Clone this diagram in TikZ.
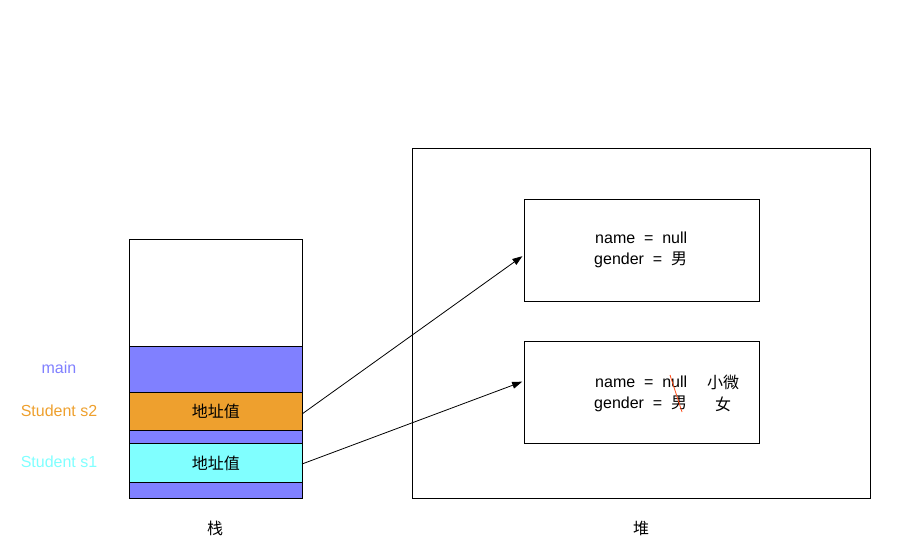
\documentclass[tikz,border=0pt]{standalone}
\usepackage{fontspec}
\setmainfont{Liberation Sans}
\newfontfamily\cjk{Noto Sans CJK SC}
\usetikzlibrary{arrows.meta}
\definecolor{cpurple}{HTML}{8080FF}
\definecolor{corange}{HTML}{EEA02E}
\definecolor{ccyan}{HTML}{80FFFF}
\definecolor{cred}{HTML}{FF4D1A}
\begin{document}
\begin{tikzpicture}[x=1pt,y=-1pt,
  txt/.style={font=\fontsize{16}{19}\selectfont, inner sep=0pt},
  cjktxt/.style={font=\cjk\fontsize{16}{19}\selectfont, inner sep=0pt},
  cell/.style={draw=black, line width=0.9pt},
  arr/.style={-{Triangle[length=10pt,width=7pt]}, line width=0.8pt, shorten >=2pt}]
\useasboundingbox (0,0) rectangle (915,555);
% stack
\draw[cell, fill=white] (129,239) rectangle (302,346);
\draw[cell, fill=cpurple] (129,346) rectangle (302,392);
\node[cell, fill=corange, minimum width=173pt, minimum height=38pt, inner sep=0pt, anchor=north west, font=\cjk\fontsize{16}{19}\selectfont] (s2) at (129,392) {地址值};
\draw[cell, fill=cpurple] (129,430) rectangle (302,443);
\node[cell, fill=ccyan, minimum width=173pt, minimum height=39pt, inner sep=0pt, anchor=north west, font=\cjk\fontsize{16}{19}\selectfont] (s1) at (129,443) {地址值};
\draw[cell, fill=cpurple] (129,482) rectangle (302,498);
% labels
\node[txt, text=cpurple] (lmain) at (59,368) {main};
\node[txt, text=corange] (ls2) at (59,411) {Student s2};
\node[txt, text=ccyan] (ls1) at (59,462) {Student s1};
\node[cjktxt] (zhan) at (215,528) {栈};
% heap
\node[cell, minimum width=458pt, minimum height=350pt, anchor=north west, inner sep=0pt] (heap) at (412,148) {};
\node[cjktxt] (dui) at (641,528) {堆};
\node[cell, minimum width=235pt, minimum height=102pt, anchor=north west, inner sep=0pt] (o1) at (524,199) {};
\node[cell, minimum width=235pt, minimum height=102pt, anchor=north west, inner sep=0pt] (o2) at (524,341) {};
% object 1 text
\node[txt, anchor=west] (o1a) at (595,238) {name\ \ =\ \ null};
\node[txt, anchor=west] (o1b) at (594,259.5) {gender\ \ =\ \ {\cjk 男}};
% object 2 text
\node[txt, anchor=west] (o2a) at (595,382) {name\ \ =\ \ null};
\node[txt, anchor=west] (o2b) at (594,403.5) {gender\ \ =\ \ {\cjk 男}};
\node[cjktxt] (o2c) at (723,382) {小微};
\node[cjktxt] (o2d) at (723,404) {女};
\coordinate (r1) at (670,375);
\coordinate (r2) at (682,412);
\draw[cred, line width=0.8pt] (r1) -- (r2);
% arrows
\coordinate (a1s) at (302,414);
\coordinate (a1e) at (524,255);
\coordinate (a2s) at (302,464);
\coordinate (a2e) at (524,381);
\draw[arr] (a1s) -- (a1e);
\draw[arr] (a2s) -- (a2e);
\end{tikzpicture}
\end{document}
